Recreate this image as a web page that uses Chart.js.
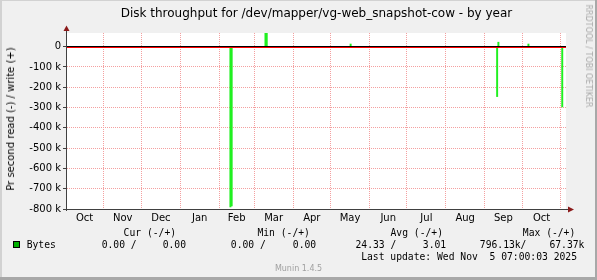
<!DOCTYPE html>
<html>
<head>
<meta charset="utf-8">
<script src="https://cdn.jsdelivr.net/npm/chart.js@4.4.1/dist/chart.umd.min.js"></script>
<style>
  html, body { margin: 0; padding: 0; background: #f0f0f0; }
  #wrap { position: relative; width: 597px; height: 280px; overflow: hidden; }
  canvas { position: absolute; left: 0; top: 0; }
  .t { position: absolute; white-space: pre; line-height: 12px; color: #000; }
  .mono { font-family: 'DejaVu Sans Mono', monospace; font-size: 9.7px; }
  .sans { font-family: 'DejaVu Sans', sans-serif; }
  .box { position: absolute; left: 13px; top: 241px; width: 5px; height: 5px; background: #00b000; border: 1px solid #000; }
</style>
</head>
<body>
<div id="wrap">
  <canvas id="chart" width="597" height="280"></canvas>

  <div class="t sans" style="font-size:12px;left:316.5px;top:7px;transform:translateX(-50%)">Disk throughput for /dev/mapper/vg-web_snapshot-cow - by year</div>
  <div class="t sans" style="font-size:10px;left:11px;top:118.5px;transform:translate(-50%,-50%) rotate(-90deg)">Pr second read (-) / write (+)</div>
  <div class="t sans" style="font-size:8px;color:#aaa;left:588px;top:56px;transform:translate(-50%,-50%) rotate(90deg)">RRDTOOL / TOBI OETIKER</div>

  <!-- legend -->
  <div class="t mono" style="left:123.6px;top:226.5px">Cur (-/+)</div>
  <div class="t mono" style="left:257.4px;top:226.5px">Min (-/+)</div>
  <div class="t mono" style="left:390.5px;top:226.5px">Avg (-/+)</div>
  <div class="t mono" style="left:522.8px;top:226.5px">Max (-/+)</div>

  <div class="box"></div>
  <div class="t mono" style="left:26.7px;top:239px">Bytes</div>
  <div class="t mono" style="left:101.7px;top:239px">0.00 /</div>
  <div class="t mono" style="left:162.7px;top:239px">0.00</div>
  <div class="t mono" style="left:230.8px;top:239px">0.00 /</div>
  <div class="t mono" style="left:292.8px;top:239px">0.00</div>
  <div class="t mono" style="left:355.5px;top:239px">24.33 /</div>
  <div class="t mono" style="left:422.8px;top:239px">3.01</div>
  <div class="t mono" style="left:479.8px;top:239px">796.13k/</div>
  <div class="t mono" style="left:549.4px;top:239px">67.37k</div>

  <div class="t mono" style="left:361.2px;top:251px">Last update: Wed Nov  5 07:00:03 2025</div>
  <div class="t sans" style="font-size:8px;color:#a0a0a0;left:298.5px;top:263px;transform:translateX(-50%)">Munin 1.4.5</div>
</div>

<script>
// ---- data (x = days since 1 Oct 2024) ----
const readDays = [132, 133, 345, 397];
const readValues = [-790000, -785000, -246000, -297000];
const writeDays = [160, 161, 228, 346, 370];
const writeValues = [67370, 66000, 13000, 22000, 13000];

const monthStarts = [31, 61, 92, 123, 151, 182, 212, 243, 273, 304, 335, 365, 396];
const monthMids = [15.5, 46, 76.5, 107.5, 137, 166.5, 197, 227.5, 258, 288.5, 319.5, 350, 380.5];
const monthLabels = ['Oct', 'Nov', 'Dec', 'Jan', 'Feb', 'Mar', 'Apr', 'May', 'Jun', 'Jul', 'Aug', 'Sep', 'Oct'];

const yTicks = [-800000, -750000, -700000, -650000, -600000, -550000, -500000, -450000, -400000,
  -350000, -300000, -250000, -200000, -150000, -100000, -50000, 0, 50000];
const yTickLabels = ['-800 k', '', '-700 k', '', '-600 k', '', '-500 k', '', '-400 k',
  '', '-300 k', '', '-200 k', '', '-100 k', '', '0', ''];

const X_MIN = 1.5, X_MAX = 400;
const Y_MIN = -800000, Y_MAX = 67370;

const PINK = '#f4a0a0';
const GRAY = '#cccccc';
const CLEAR = 'rgba(0,0,0,0)';
const SPIKE = '#20f020';

// ---- backdrop, zero rule, axes ----
const rrdLook = {
  id: 'rrdLook',
  beforeDraw(chart) {
    const { ctx, chartArea: a } = chart;
    ctx.save();
    ctx.fillStyle = '#f0f0f0';
    ctx.fillRect(0, 0, 597, 280);
    ctx.fillStyle = '#d2d2d2';
    ctx.fillRect(0, 0, 597, 1);
    ctx.fillRect(0, 0, 2, 280);
    ctx.fillStyle = '#a8a8a8';
    ctx.fillRect(595, 0, 2, 280);
    ctx.fillRect(0, 277, 597, 3);
    ctx.fillStyle = '#fff';
    ctx.fillRect(a.left, a.top, a.right - a.left, a.bottom - a.top);
    ctx.restore();
  },
  afterDatasetsDraw(chart) {
    const { ctx, chartArea: a, scales } = chart;
    const y0 = Math.floor(scales.y.getPixelForValue(0));
    ctx.save();
    ctx.fillStyle = '#ff0000';
    ctx.fillRect(a.left, y0 + 1, a.right - a.left, 1);
    ctx.fillStyle = '#000';
    ctx.fillRect(a.left, y0, a.right - a.left, 1);

    // axis lines
    ctx.fillStyle = '#404040';
    ctx.fillRect(a.left - 1, 30, 1, a.bottom - 30 + 2);
    ctx.fillRect(a.left - 4, Math.round(a.bottom), a.right - a.left + 8, 1);

    // arrows
    ctx.fillStyle = '#8b1a1a';
    ctx.beginPath();
    ctx.moveTo(a.left - 0.5, 25.5);
    ctx.lineTo(a.left - 3.5, 31);
    ctx.lineTo(a.left + 2.5, 31);
    ctx.closePath();
    ctx.fill();
    const yb = Math.round(a.bottom) + 0.5;
    ctx.beginPath();
    ctx.moveTo(a.right + 8, yb);
    ctx.lineTo(a.right + 2, yb - 3);
    ctx.lineTo(a.right + 2, yb + 3);
    ctx.closePath();
    ctx.fill();
    ctx.restore();
  }
};

Chart.defaults.font.family = "'DejaVu Sans', sans-serif";
Chart.defaults.font.size = 10;
Chart.defaults.color = '#000';

new Chart(document.getElementById('chart'), {
  type: 'bar',
  data: {
    datasets: [
      {
        label: 'read',
        data: readDays.map((d, i) => ({ x: d, y: readValues[i] })),
        backgroundColor: SPIKE,
        barThickness: 1.3,
      },
      {
        label: 'write',
        data: writeDays.map((d, i) => ({ x: d, y: writeValues[i] })),
        backgroundColor: SPIKE,
        barThickness: 1.3,
      }
    ]
  },
  options: {
    responsive: false,
    animation: false,
    devicePixelRatio: 1,
    grouped: false,
    layout: { padding: { left: 0, top: 33, right: 31, bottom: 0 } },
    plugins: { legend: { display: false }, tooltip: { enabled: false }, title: { display: false } },
    scales: {
      x: {
        type: 'linear',
        min: X_MIN,
        max: X_MAX,
        offset: false,
        afterBuildTicks: s => {
          s.ticks = [...monthStarts, ...monthMids].sort((p, q) => p - q).map(v => ({ value: v }));
        },
        afterFit: s => { s.height = 71; },
        grid: {
          offset: false,
          drawTicks: false,
          color: c => (c.tick && monthStarts.includes(c.tick.value)) ? PINK : CLEAR,
        },
        border: { display: false, dash: [1, 1] },
        ticks: {
          autoSkip: false,
          maxRotation: 0,
          padding: 3,
          callback: v => {
            const i = monthMids.indexOf(v);
            return i >= 0 ? monthLabels[i] : '';
          }
        }
      },
      y: {
        min: Y_MIN,
        max: Y_MAX,
        afterBuildTicks: s => { s.ticks = yTicks.map(v => ({ value: v })); },
        afterFit: s => { s.width = 67; },
        grid: {
          tickLength: 4,
          tickBorderDash: [],
          color: c => (c.tick && c.tick.value % 100000 === 0) ? PINK : GRAY,
          tickColor: c => (c.tick && c.tick.value % 100000 === 0) ? '#404040' : CLEAR,
        },
        border: { display: false, dash: [1, 1] },
        ticks: {
          padding: 2,
          callback: v => yTickLabels[yTicks.indexOf(v)]
        }
      }
    }
  },
  plugins: [rrdLook]
});
</script>
</body>
</html>
